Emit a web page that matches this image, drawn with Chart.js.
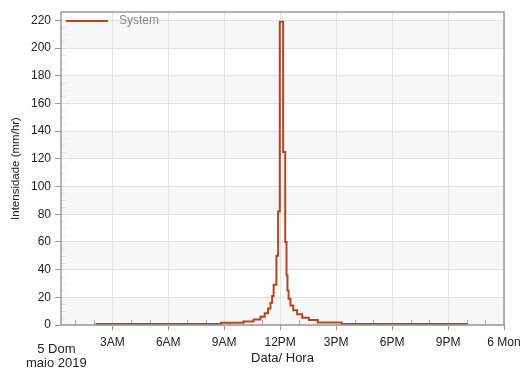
<!DOCTYPE html>
<html>
<head>
<meta charset="utf-8">
<script src="https://cdn.jsdelivr.net/npm/chart.js@4.4.1/dist/chart.umd.min.js"></script>
<style>
  html, body { margin: 0; padding: 0; background: #fff; }
  #wrap { width: 521px; height: 371px; position: relative; }
</style>
</head>
<body>
<div id="wrap"><canvas id="chart"></canvas></div>
<script>
// ── Data (hours since 5 May 2019 00:00, intensity mm/hr held until next point) ──
const HOURS = [2.1, 8.83, 10.04, 10.57, 10.94, 11.17, 11.35, 11.48, 11.57, 11.65, 11.8, 11.89, 11.98,
  12.16, 12.27, 12.34, 12.39, 12.45, 12.55, 12.7, 12.91, 13.18, 13.54, 14.02, 15.3, 22.05];
const INTENSITY = [0.7, 1.7, 2.6, 4, 6, 8.5, 12, 16, 21, 29, 50, 82, 219,
  125, 60, 36, 25, 19, 14, 10.7, 7.8, 5.3, 3.6, 1.8, 0.7, 0.7];
const X_TICKS = [3, 6, 9, 12, 15, 18, 21, 24];
const X_LABELS = ['3AM', '6AM', '9AM', '12PM', '3PM', '6PM', '9PM', '6 Mon'];
const Y_TICKS = [0, 20, 40, 60, 80, 100, 120, 140, 160, 180, 200, 220];
const START_LABEL = ['5 Dom', 'maio 2019'];

const FONT = 'Liberation Sans, Arial, sans-serif';
const LINE_COLOR = '#b4461e';

// ── Plot decorations: bands, minor ticks, frame, legend, start date label ──
const decorations = {
  id: 'decorations',
  beforeDatasetsDraw(chart) {
    const { ctx, chartArea: a, scales: { x, y } } = chart;
    ctx.save();
    // alternating bands under the grid
    ctx.globalCompositeOperation = 'destination-over';
    ctx.fillStyle = '#f7f7f7';
    for (let v = 0; v < 220; v += 40) {
      const top = y.getPixelForValue(v + 20), bot = y.getPixelForValue(v);
      ctx.fillRect(a.left, top, a.right - a.left, bot - top);
    }
    ctx.globalCompositeOperation = 'source-over';
    // minor ticks
    ctx.strokeStyle = '#aaa';
    ctx.lineWidth = 1;
    ctx.beginPath();
    for (let h = 1; h < 24; h++) {
      if (h % 3 === 0) continue;
      const px = Math.round(x.getPixelForValue(h)) + 0.5;
      ctx.moveTo(px, a.bottom);
      ctx.lineTo(px, a.bottom - 5);
    }
    ctx.stroke();
    ctx.strokeStyle = '#e6e6e6';
    ctx.beginPath();
    for (let v = 5; v < 224; v += 5) {
      if (v % 20 === 0) continue;
      const py = Math.round(y.getPixelForValue(v)) + 0.5;
      ctx.moveTo(a.left + 1, py);
      ctx.lineTo(a.left + 5, py);
    }
    ctx.stroke();
    ctx.restore();
  },
  afterDraw(chart) {
    const { ctx, chartArea: a, scales: { x } } = chart;
    const ds = chart.data.datasets[0];
    ctx.save();
    ctx.strokeStyle = '#9a9a9a';
    ctx.lineWidth = 1.5;
    ctx.strokeRect(a.left, a.top, a.right - a.left, a.bottom - a.top);
    // legend
    ctx.strokeStyle = ds.borderColor;
    ctx.lineWidth = 2;
    ctx.beginPath();
    ctx.moveTo(a.left + 5, a.top + 9);
    ctx.lineTo(a.left + 47, a.top + 9);
    ctx.stroke();
    ctx.fillStyle = '#888';
    ctx.font = '12px ' + FONT;
    ctx.textBaseline = 'middle';
    ctx.fillText(ds.label, a.left + 58, a.top + 9);
    // start date under the axis
    ctx.fillStyle = '#222';
    ctx.font = '13px ' + FONT;
    ctx.textAlign = 'center';
    const px = x.getPixelForValue(0);
    ctx.fillText(START_LABEL[0], px, 349);
    ctx.fillText(START_LABEL[1], px, 363);
    ctx.restore();
  },
};

new Chart(document.getElementById('chart'), {
  type: 'line',
  data: {
    datasets: [{
      label: 'System',
      data: HOURS.map((h, i) => ({ x: h, y: INTENSITY[i] })),
      borderColor: LINE_COLOR,
      borderWidth: 2,
      stepped: 'before',
      pointRadius: 0,
      fill: false,
    }],
  },
  options: {
    responsive: true,
    maintainAspectRatio: false,
    devicePixelRatio: 1,
    animation: false,
    layout: { padding: { top: 12, right: 17, left: 0, bottom: 0 } },
    plugins: {
      legend: { display: false },
      tooltip: { enabled: false },
    },
    scales: {
      x: {
        type: 'linear',
        min: 0.25,
        max: 24,
        afterBuildTicks: s => { s.ticks = X_TICKS.map(v => ({ value: v })); },
        afterFit: s => { s.height = 46; s.paddingLeft = 0; s.paddingRight = 0; },
        grid: { color: '#e2e2e2', tickColor: '#999', tickLength: 5 },
        border: { display: false },
        ticks: {
          autoSkip: false,
          maxRotation: 0,
          padding: 5,
          color: '#222',
          font: { family: FONT, size: 12 },
          callback: v => X_LABELS[X_TICKS.indexOf(v)],
        },
        title: {
          display: true,
          text: 'Data/ Hora',
          color: '#222',
          font: { family: FONT, size: 13 },
          padding: { top: 0, bottom: 5 },
        },
      },
      y: {
        min: 0,
        max: 226,
        afterBuildTicks: s => { s.ticks = Y_TICKS.map(v => ({ value: v })); },
        afterFit: s => { s.width = 61; s.paddingTop = 0; s.paddingBottom = 0; },
        grid: { color: '#e2e2e2', tickColor: '#999', tickLength: 6 },
        border: { display: false },
        ticks: {
          padding: 4,
          color: '#222',
          font: { family: FONT, size: 12 },
        },
        title: {
          display: true,
          text: 'Intensidade (mm/hr)',
          color: '#222',
          font: { family: FONT, size: 11.5 },
          padding: { top: 9, bottom: 0 },
        },
      },
    },
  },
  plugins: [decorations],
});
</script>
</body>
</html>
